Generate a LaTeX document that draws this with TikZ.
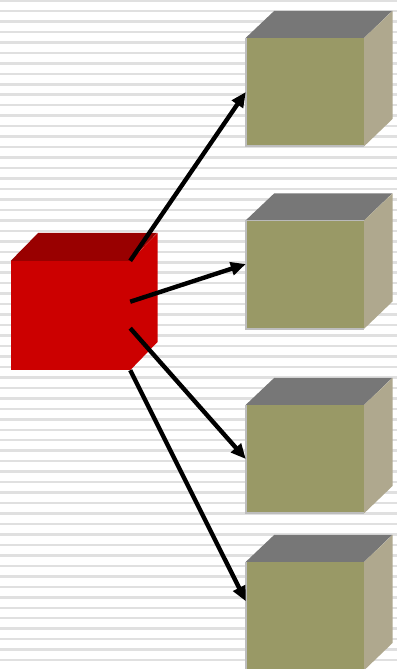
\documentclass[tikz,border=0pt]{standalone}
\usepackage{tikz}
\usetikzlibrary{arrows.meta}

\definecolor{cubered}{HTML}{CC0000}
\definecolor{cubereddark}{HTML}{990000}
\definecolor{olivefront}{HTML}{999966}
\definecolor{olivetop}{HTML}{777777}
\definecolor{oliveside}{HTML}{AFA88E}
\definecolor{edgegray}{HTML}{BDBDBD}
\definecolor{stripegray}{HTML}{E0E0E0}

\begin{document}
\begin{tikzpicture}[x=1pt,y=-1pt,inner sep=0pt,
  redface/.style={rectangle,fill=cubered,minimum width=119pt,minimum height=109pt},
  boxface/.style={rectangle,fill=olivefront,minimum width=118pt,minimum height=108pt},
  boxtop/.style={fill=olivetop},
  boxside/.style={fill=oliveside},
  boxedge/.style={draw=edgegray,line width=2pt},
  stripe/.style={draw=stripegray,line width=2.5pt},
  link/.style={line width=4.4pt,-{Triangle[length=15pt,width=13pt]}}]
\useasboundingbox (0,0) rectangle (397,669);
\clip (0,0) rectangle (397,669);
% Background
\fill[white] (0,0) rectangle (397,669);
\foreach \i in {0,...,64}
  \draw[stripe] (0,\i*10.47+0.5) -- (397,\i*10.47+0.5);
% Source cube
\node[redface] (src) at (70.5,315.5) {};
\fill[cubereddark] (src.north west) -- ++(27.5,-28) -- ++(119,0) -- (src.north east) -- cycle;
\fill[cubered] (src.north east) -- ++(27.5,-28) -- ++(0,109) -- (src.south east) -- cycle;
% Target cubes
\foreach \n/\y in {1/92,2/274.5,3/459,4/616} {
  \node[boxface] (box\n) at (305,\y) {};
  \fill[boxtop] (box\n.north west) -- ++(28.5,-27) -- ++(118,0) -- (box\n.north east) -- cycle;
  \fill[boxside] (box\n.north east) -- ++(28.5,-27) -- ++(0,108) -- (box\n.south east) -- cycle;
  \draw[boxedge] (box\n.north west) -- (box\n.south west) -- (box\n.south east);
}
% Arrows
\draw[link] (src.north east) -- (box1.west);
\draw[link] (src.13) -- (box2.170);
\draw[link] (src.348) -- (box3.west);
\draw[link] (src.south east) -- (box4.166);
\end{tikzpicture}
\end{document}
